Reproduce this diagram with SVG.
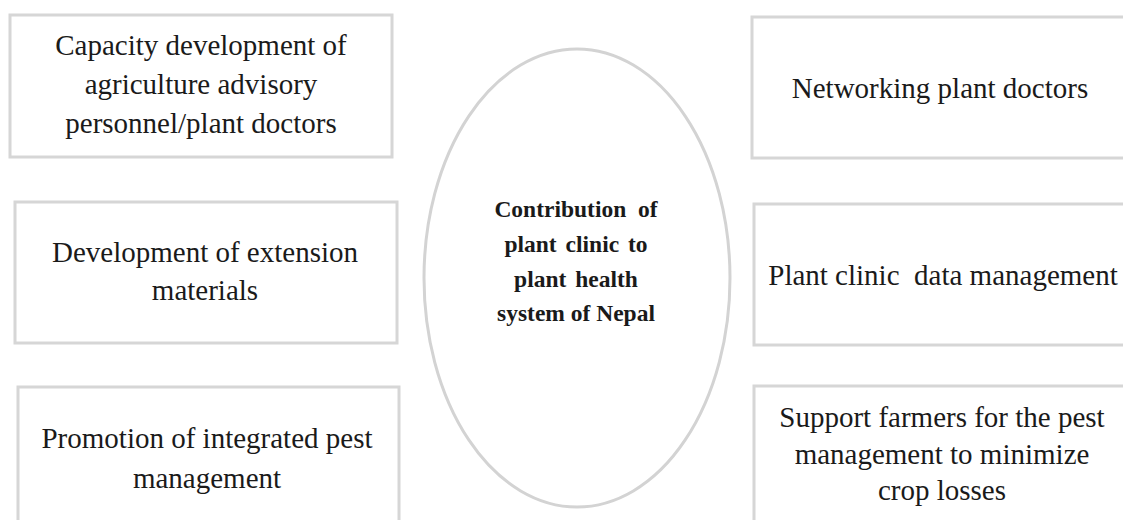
<svg xmlns="http://www.w3.org/2000/svg" width="1123" height="520" viewBox="0 0 1123 520">
<style>
.box{fill:#ffffff;stroke:#d6d6d6;stroke-width:3}
.ell{fill:#ffffff;stroke:#d3d3d3;stroke-width:3}
.t{font-family:"Liberation Serif","Times New Roman",serif;font-size:29px;fill:#1a1a1a;text-anchor:middle}
.c{font-family:"Liberation Serif","Times New Roman",serif;font-size:23.5px;font-weight:bold;fill:#1a1a1a;text-anchor:middle}
</style>
<rect width="1123" height="520" fill="#ffffff"/>
<g id="connectors"/>
<g id="n1">
<rect class="box" x="10" y="15" width="382" height="142"/>
<text class="t" x="201" y="55">Capacity development of</text>
<text class="t" x="201" y="94">agriculture advisory</text>
<text class="t" x="201" y="133">personnel/plant doctors</text>
</g>
<g id="n2">
<rect class="box" x="15" y="202" width="382" height="141"/>
<text class="t" x="205" y="262">Development of extension</text>
<text class="t" x="205" y="300">materials</text>
</g>
<g id="n3">
<rect class="box" x="18" y="387" width="381" height="150"/>
<text class="t" x="207" y="448">Promotion of integrated pest</text>
<text class="t" x="207" y="488">management</text>
</g>
<g id="n4">
<rect class="box" x="752" y="17" width="380" height="141"/>
<text class="t" x="940" y="98">Networking plant doctors</text>
</g>
<g id="n5">
<rect class="box" x="754" y="204" width="380" height="141"/>
<text class="t" x="943" y="285" xml:space="preserve">Plant clinic  data management</text>
</g>
<g id="n6">
<rect class="box" x="754" y="386" width="380" height="150"/>
<text class="t" x="942" y="427">Support farmers for the pest</text>
<text class="t" x="942" y="464">management to minimize</text>
<text class="t" x="942" y="500">crop losses</text>
</g>
<g id="center">
<ellipse class="ell" cx="577" cy="278" rx="153" ry="229"/>
<text class="c" x="576" y="217" xml:space="preserve">Contribution  of</text>
<text class="c" x="576" y="252" word-spacing="3">plant clinic to</text>
<text class="c" x="576" y="287" word-spacing="3">plant health</text>
<text class="c" x="576" y="321">system of Nepal</text>
</g>
</svg>
